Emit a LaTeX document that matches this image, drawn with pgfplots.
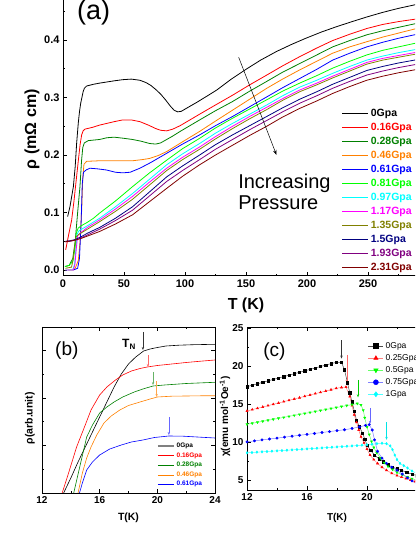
\documentclass[border=0pt]{standalone}
\usepackage{fontspec}
\setmainfont{Liberation Sans}
\usepackage{pgfplots}
\pgfplotsset{compat=1.18}
\usetikzlibrary{arrows.meta}
\definecolor{cdg}{RGB}{0,128,0}
\definecolor{cor}{RGB}{255,128,0}
\definecolor{clime}{RGB}{0,255,0}
\definecolor{ccyan}{RGB}{0,255,255}
\definecolor{cmag}{RGB}{255,0,255}
\definecolor{colive}{RGB}{128,128,0}
\definecolor{cnavy}{RGB}{0,0,128}
\definecolor{cpurp}{RGB}{128,0,128}
\definecolor{cbrown}{RGB}{128,0,0}
\pgfplotsset{
  common/.style={scale only axis, anchor=south west, tick align=inside,
    /pgf/number format/assume math mode=true,
    major tick length=4pt, minor tick length=2.2pt,
    every tick/.style={black, line width=0.6pt}}
}
\tikzset{arr/.style={-{Stealth[length=3pt,width=2.4pt]}, line width=0.5pt}}
\begin{document}
\begin{tikzpicture}
\path[use as bounding box] (0,0) rectangle (415pt,537pt);
\clip (0,0) rectangle (415pt,537pt);
% ---------------- panel (a)
\begin{axis}[common, at={(63pt,261pt)}, width=366pt, height=293.5pt,
  xmin=0, xmax=300, ymin=-0.0104, ymax=0.5,
  axis line style={line width=1pt},
  xtick={0,50,...,250}, minor xtick={25,75,...,275},
  ytick={0,0.1,0.2,0.3,0.4,0.5}, minor y tick num=1,
  yticklabel style={/pgf/number format/.cd, fixed, fixed zerofill, precision=1},
  tick label style={font=\bfseries\fontsize{11}{11}\selectfont},
  xlabel={T (K)}, ylabel={ρ (mΩ cm)},
  label style={font=\bfseries\fontsize{16}{16}\selectfont},
  xlabel style={at={(axis description cs:0.5,0)}, anchor=center, yshift=-29pt},
  ylabel style={at={(axis description cs:0,0.5)}, anchor=center, yshift=31pt},
  legend style={at={(0.762,0.579)}, anchor=north west, draw=none, fill=none,
    inner sep=0pt, row sep=0pt, font=\bfseries\fontsize{10.5}{10.5}\selectfont,
    nodes={inner sep=0pt, minimum height=14pt},
    /tikz/every odd column/.append style={column sep=2pt}},
  legend cell align=left,
  legend image code/.code={\draw[#1] (0pt,0pt) -- (26pt,0pt);},
  every axis plot/.append style={line width=0.8pt}
]
\addplot[black] coordinates {(3.8,0.093)(5.7,0.110)(8.5,0.145)(10,0.18)(11.2,0.221)(12.5,0.255)(13.5,0.275)(14.5,0.29)(15.5,0.300)(16.5,0.310)(17.5,0.316)(19.4,0.320)(25,0.323)(30,0.325)(36,0.327)(42,0.329)(49,0.331)(56,0.332)(63,0.330)(68,0.326)(72,0.321)(76,0.314)(80,0.306)(84,0.296)(88,0.285)(91,0.278)(94,0.275)(97,0.276)(101,0.281)(110,0.292)(120,0.305)(126,0.313)(138,0.332)(150,0.349)(162,0.365)(175,0.380)(187,0.392)(199,0.403)(212,0.414)(224,0.423)(237,0.432)(249,0.440)(262,0.448)(275,0.455)(288,0.461)(300,0.467)};
\addlegendentry{0Gpa}
\addplot[red] coordinates {(2.2,0.035)(4.5,0.06)(7.1,0.087)(9,0.12)(10.5,0.15)(12.6,0.191)(14,0.218)(15.3,0.235)(16.5,0.242)(18,0.245)(24,0.248)(30,0.252)(36,0.255)(42,0.258)(49,0.261)(56,0.261)(63,0.258)(70,0.252)(76,0.246)(80,0.243)(85,0.242)(90,0.245)(96,0.251)(104,0.261)(112,0.271)(125,0.287)(139,0.304)(153,0.322)(167,0.339)(180,0.355)(194,0.371)(208,0.386)(221,0.399)(235,0.410)(249,0.420)(262,0.427)(275,0.432)(288,0.436)(300,0.44)};
\addlegendentry{\textcolor{red}{0.16Gpa}}
\addplot[cdg] coordinates {(1.6,0.006)(5,0.008)(8,0.02)(10,0.05)(12,0.1)(13.9,0.145)(15.2,0.19)(16.2,0.213)(17.5,0.221)(20.7,0.225)(30,0.227)(36,0.230)(42,0.231)(50,0.229)(57,0.227)(64,0.224)(71,0.220)(76,0.219)(80,0.221)(85,0.227)(90,0.233)(96,0.241)(104,0.251)(112,0.261)(125,0.277)(139,0.293)(153,0.311)(167,0.328)(180,0.344)(194,0.359)(208,0.374)(221,0.388)(235,0.399)(249,0.409)(262,0.416)(275,0.422)(288,0.428)(300,0.433)};
\addlegendentry{\textcolor{cdg}{0.28Gpa}}
\addplot[cor] coordinates {(4,0.0)(8,0.0)(10,0.003)(12.6,0.017)(14,0.05)(15.3,0.104)(16.2,0.16)(17.2,0.184)(19.4,0.189)(30,0.190)(45,0.190)(57,0.190)(65,0.192)(71,0.194)(78,0.199)(85,0.206)(98,0.223)(112,0.241)(125,0.259)(139,0.278)(153,0.297)(167,0.316)(180,0.332)(194,0.348)(208,0.363)(221,0.377)(235,0.388)(249,0.397)(262,0.405)(275,0.412)(288,0.419)(300,0.424)};
\addlegendentry{\textcolor{cor}{0.46Gpa}}
\addplot[blue] coordinates {(8.5,0.0)(12,0.003)(13.5,0.02)(14.8,0.08)(15.8,0.15)(16.8,0.170)(19,0.174)(22,0.177)(28,0.176)(35.5,0.174)(43,0.170)(49,0.169)(55,0.170)(63,0.177)(72,0.187)(85,0.203)(98,0.219)(112,0.235)(125,0.251)(139,0.267)(153,0.284)(167,0.301)(180,0.317)(194,0.333)(208,0.349)(221,0.365)(235,0.377)(249,0.388)(262,0.396)(275,0.403)(288,0.409)(300,0.414)};
\addlegendentry{\textcolor{blue}{0.61Gpa}}
\addplot[clime] coordinates {(1.6,0.006)(5,0.008)(8,0.015)(10,0.04)(11,0.065)(12.5,0.073)(15,0.077)(20,0.083)(25,0.09)(30,0.099)(43,0.120)(57,0.145)(71,0.169)(85,0.191)(98,0.211)(112,0.229)(125,0.247)(139,0.264)(153,0.280)(167,0.296)(180,0.311)(194,0.325)(208,0.338)(221,0.351)(235,0.363)(249,0.374)(262,0.382)(275,0.388)(288,0.394)(300,0.399)};
\addlegendentry{\textcolor{clime}{0.81Gpa}}
\addplot[ccyan] coordinates {(2,0.0)(8,0.0)(9.5,0.01)(10.5,0.035)(11.5,0.062)(13,0.068)(20,0.077)(30,0.090)(43,0.110)(57,0.133)(71,0.158)(85,0.183)(98,0.202)(112,0.220)(125,0.238)(139,0.255)(153,0.271)(167,0.287)(180,0.303)(194,0.318)(208,0.330)(221,0.342)(235,0.354)(249,0.365)(262,0.372)(275,0.378)(288,0.383)(300,0.388)};
\addlegendentry{\textcolor{ccyan}{0.97Gpa}}
\addplot[cmag] coordinates {(2,0.0)(8.5,0.0)(9.8,0.01)(10.8,0.035)(12,0.06)(14,0.064)(20,0.074)(30,0.087)(43,0.106)(57,0.128)(71,0.153)(85,0.177)(98,0.196)(112,0.214)(125,0.232)(139,0.250)(153,0.267)(167,0.283)(180,0.298)(194,0.313)(208,0.325)(221,0.337)(235,0.349)(249,0.361)(262,0.368)(275,0.373)(288,0.378)(300,0.383)};
\addlegendentry{\textcolor{cmag}{1.17Gpa}}
\addplot[colive] coordinates {(2,0.003)(7,0.005)(8.5,0.02)(9.5,0.04)(10.5,0.057)(13,0.062)(20,0.071)(30,0.084)(43,0.102)(57,0.123)(71,0.148)(85,0.173)(98,0.192)(112,0.210)(125,0.228)(139,0.246)(153,0.263)(167,0.279)(180,0.295)(194,0.310)(208,0.322)(221,0.334)(235,0.346)(249,0.358)(262,0.365)(275,0.370)(288,0.375)(300,0.380)};
\addlegendentry{\textcolor{colive}{1.35Gpa}}
\addplot[cnavy] coordinates {(2,0.050)(6,0.051)(10,0.053)(15,0.058)(20,0.064)(30,0.074)(43,0.090)(57,0.110)(71,0.136)(85,0.162)(98,0.181)(112,0.200)(125,0.218)(139,0.235)(153,0.251)(167,0.267)(180,0.282)(194,0.297)(208,0.310)(221,0.323)(235,0.335)(249,0.347)(262,0.354)(275,0.360)(288,0.365)(300,0.370)};
\addlegendentry{\textcolor{cnavy}{1.5Gpa}}
\addplot[cpurp] coordinates {(2,0.049)(6,0.050)(10,0.052)(15,0.056)(20,0.061)(30,0.071)(43,0.086)(57,0.104)(71,0.129)(85,0.154)(98,0.173)(112,0.192)(125,0.210)(139,0.227)(153,0.244)(167,0.260)(180,0.275)(194,0.290)(208,0.303)(221,0.316)(235,0.328)(249,0.339)(262,0.346)(275,0.352)(288,0.357)(300,0.362)};
\addlegendentry{\textcolor{cpurp}{1.93Gpa}}
\addplot[cbrown] coordinates {(1.5,0.049)(5,0.050)(10,0.052)(15,0.055)(20,0.059)(30,0.067)(43,0.080)(57,0.096)(71,0.119)(85,0.142)(98,0.163)(112,0.183)(125,0.200)(139,0.217)(153,0.234)(167,0.250)(180,0.266)(194,0.281)(208,0.294)(221,0.307)(235,0.319)(249,0.330)(262,0.337)(275,0.343)(288,0.348)(300,0.353)};
\addlegendentry{\textcolor{cbrown}{2.31Gpa}}
\draw[-{Stealth[length=5pt,width=3.5pt]}, line width=0.5pt] (axis cs:144,0.370) -- (axis cs:175,0.200);
\node[anchor=base west, font=\fontsize{20}{20}\selectfont, inner sep=0pt] at (axis cs:143.5,0.1417) {Increasing};
\node[anchor=base west, font=\fontsize{20}{20}\selectfont, inner sep=0pt] at (axis cs:143.5,0.1052) {Pressure};
\node[anchor=base west, font=\fontsize{27}{27}\selectfont, inner sep=0pt] at (axis cs:11.5,0.4348) {(a)};
\end{axis}
% ---------------- panel (b)
\begin{axis}[common, at={(42pt,44pt)}, width=173pt, height=166pt,
  xmin=12, xmax=24, ymin=0, ymax=166,
  axis line style={line width=0.7pt},
  xtick={12,16,20,24}, minor xtick={14,18,22},
  ytick={47.5,95,142.5}, minor ytick={23.75,71.25,118.75}, yticklabels={},
  tick label style={font=\bfseries\fontsize{10}{10}\selectfont},
  xlabel={T(K)}, ylabel={ρ(arb.unit)},
  label style={font=\bfseries\fontsize{10.5}{10.5}\selectfont},
  xlabel style={at={(axis description cs:0.5,0)}, anchor=center, yshift=-25pt},
  ylabel style={at={(axis description cs:0,0.45)}, anchor=center, yshift=12pt},
  legend style={at={(0.665,0.313)}, anchor=north west, draw=none, fill=none,
    inner sep=0pt, row sep=0pt, font=\bfseries\fontsize{6.5}{6.5}\selectfont,
    nodes={inner sep=0pt, minimum height=9.6pt},
    /tikz/every odd column/.append style={column sep=2pt}},
  legend cell align=left,
  legend image code/.code={\draw[#1] (0pt,0pt) -- (16pt,0pt);},
  every axis plot/.append style={line width=0.6pt}
]
\addlegendimage{gray, line width=1.4pt}
\addlegendentry{0Gpa}
\addplot[black, forget plot] coordinates {(13.5,0)(14.0,15)(14.5,31)(15,46)(15.5,61)(16,76)(16.5,91)(17,106)(17.5,119)(18,129)(18.5,136)(19.05,142)(19.5,144)(20,145.5)(20.6,147)(21.5,147.8)(22.5,148.3)(24,148.7)};
\addplot[red] coordinates {(13.4,0)(13.8,18)(14.4,46)(15,68)(15.4,83)(16,98)(16.5,106)(17.1,113)(17.6,118)(18.2,122)(18.8,124.5)(19.3,126)(20,127.5)(21,129)(22,130.5)(23,131.8)(24,133)};
\addlegendentry{\textcolor{red}{0.16Gpa}}
\addplot[cdg] coordinates {(14.2,0)(14.6,25)(15.1,56)(15.5,68)(16,80)(16.5,86)(17,91)(17.6,96)(18.4,101)(19,104)(19.7,107)(20.5,108)(22,109.5)(24,110.7)};
\addlegendentry{\textcolor{cdg}{0.28Gpa}}
\addplot[cor] coordinates {(14.5,0)(14.8,20)(15.1,35)(15.4,46)(15.8,58)(16.3,70)(16.8,77)(17.4,83)(18,87.5)(18.8,91)(19.5,94)(20,96)(21,96.8)(22,97)(23,97.2)(24,97.2)};
\addlegendentry{\textcolor{cor}{0.46Gpa}}
\addplot[blue] coordinates {(14.6,0)(14.8,10)(15.1,23)(15.5,31)(16,38)(16.7,44)(17.5,48)(18.2,51)(19,53)(19.8,55.5)(20.8,57)(21.8,56.8)(23,55.8)(24,55)};
\addlegendentry{\textcolor{blue}{0.61Gpa}}
\draw[arr, black!80] (axis cs:19.0,161) -- (axis cs:19.0,143);
\draw[arr, red!60] (axis cs:19.35,138) -- (axis cs:19.35,126);
\draw[arr, cdg!60] (axis cs:19.7,121) -- (axis cs:19.7,108);
\draw[arr, cor!70] (axis cs:19.95,112) -- (axis cs:19.95,96);
\draw[arr, blue!60] (axis cs:20.8,76) -- (axis cs:20.8,58);
\node[anchor=base west, font=\bfseries\fontsize{12}{12}\selectfont, inner sep=0pt] at (axis cs:17.55,145) {T\textsubscript{N}};
\node[anchor=base west, font=\fontsize{19}{19}\selectfont, inner sep=0pt] at (axis cs:12.9,137) {(b)};
\end{axis}
% ---------------- panel (c)
\begin{axis}[common, at={(247pt,47pt)}, width=180pt, height=163pt,
  xmin=12, xmax=24, ymin=3.7, ymax=25.15,
  axis line style={line width=0.7pt},
  xtick={12,16,20}, minor xtick={14,18,22},
  ytick={5,10,15,20,25}, minor ytick={7.5,12.5,17.5,22.5},
  tick label style={font=\bfseries\fontsize{10}{10}\selectfont},
  xlabel={T(K)}, ylabel={χ(emu mol\textsuperscript{-1}Oe\textsuperscript{-1})},
  label style={font=\bfseries\fontsize{10}{10}\selectfont},
  xlabel style={at={(axis description cs:0.5,0)}, anchor=center, yshift=-28pt},
  ylabel style={at={(axis description cs:0,0.45)}, anchor=center, yshift=22pt},
  legend style={at={(0.672,0.92)}, anchor=north west, draw=none, fill=none,
    inner sep=0pt, row sep=0pt, font=\fontsize{8.5}{8.5}\selectfont,
    nodes={inner sep=0pt, minimum height=12pt},
    /tikz/every odd column/.append style={column sep=2pt}},
  legend cell align=left,
  legend image code/.code={\draw[#1] (0pt,0pt) -- (15pt,0pt); \draw[#1, mark size=2.5pt] plot coordinates {(7.5pt,0pt)};},
  every axis plot/.append style={line width=0.5pt, mark size=1.2pt}
]
\addplot[black!70, mark=square*, mark options={black, fill=black}] coordinates {(12.0,17.30)(12.35,17.49)(12.7,17.68)(13.05,17.87)(13.4,18.06)(13.75,18.25)(14.1,18.43)(14.45,18.62)(14.8,18.81)(15.15,19.00)(15.5,19.19)(15.85,19.38)(16.2,19.57)(16.55,19.76)(16.9,19.95)(17.25,20.14)(17.6,20.33)(17.95,20.50)(18.3,20.50)(18.5,19.5)(18.7,17.8)(18.85,16.5)(19.0,15.3)(19.15,14.1)(19.3,12.9)(19.5,12.0)(19.7,11.2)(19.85,10.4)(20.0,9.6)(20.25,8.9)(20.5,8.3)(20.8,7.8)(21.1,7.4)(21.4,7.0)(21.7,6.7)(22.0,6.5)(22.3,6.3)(22.65,6.0)(23.0,5.8)(23.3,5.6)(23.6,5.5)};
\addlegendentry{0Gpa}
\addplot[red!50, mark=triangle*, mark options={red, fill=red}] coordinates {(12.0,14.10)(12.35,14.28)(12.7,14.45)(13.05,14.63)(13.4,14.80)(13.75,14.98)(14.1,15.15)(14.45,15.33)(14.8,15.50)(15.15,15.68)(15.5,15.85)(15.85,16.03)(16.2,16.20)(16.55,16.38)(16.9,16.55)(17.25,16.73)(17.6,16.90)(17.95,17.08)(18.3,17.20)(18.6,17.25)(18.85,16.0)(19.0,14.8)(19.15,13.6)(19.3,12.6)(19.45,11.6)(19.6,10.7)(19.8,9.9)(20.0,9.1)(20.2,8.3)(20.45,7.7)(20.7,7.2)(21.0,6.7)(21.3,6.3)(21.65,5.9)(22.0,5.6)(22.3,5.4)(22.6,5.2)(22.9,5.0)(23.2,4.8)(23.5,4.6)};
\addlegendentry{0.25Gpa}
\addplot[clime!60, mark=triangle*, mark options={clime, fill=clime, rotate=180}] coordinates {(12.0,12.35)(12.35,12.48)(12.7,12.61)(13.05,12.74)(13.4,12.87)(13.75,13.00)(14.1,13.13)(14.45,13.26)(14.8,13.39)(15.15,13.52)(15.5,13.65)(15.85,13.77)(16.2,13.90)(16.55,14.03)(16.9,14.16)(17.25,14.29)(17.6,14.42)(17.95,14.55)(18.3,14.68)(18.65,14.81)(19.0,14.94)(19.35,15.07)(19.6,14.9)(19.75,14.2)(19.85,13.2)(20.0,12.0)(20.15,11.0)(20.3,10.1)(20.45,9.3)(20.65,8.6)(20.9,7.9)(21.15,7.3)(21.4,6.8)(21.7,6.4)(22.0,6.0)(22.35,5.7)(22.7,5.4)(23.0,5.2)(23.3,5.0)(23.6,4.9)};
\addlegendentry{0.5Gpa}
\addplot[blue!50, mark=*, mark options={blue, fill=blue}] coordinates {(12.0,10.04)(12.5,10.16)(13.0,10.29)(13.5,10.41)(14.0,10.53)(14.5,10.65)(15.0,10.78)(15.5,10.90)(16.0,11.02)(16.5,11.14)(17.0,11.27)(17.5,11.39)(18.0,11.51)(18.5,11.63)(19.0,11.80)(19.5,12.0)(19.9,12.2)(20.15,12.3)(20.35,11.6)(20.5,10.3)(20.7,8.8)(21.0,7.9)(21.3,7.2)(21.65,6.7)(22.0,6.3)(22.35,5.8)(22.7,5.3)(23.0,4.9)(23.3,4.6)(23.6,4.4)};
\addlegendentry{0.75Gpa}
\addplot[ccyan!70, mark=diamond*, mark options={ccyan, fill=ccyan}] coordinates {(12.0,8.59)(12.33,8.63)(12.66,8.68)(13.0,8.72)(13.33,8.76)(13.66,8.81)(14.0,8.85)(14.33,8.89)(14.66,8.94)(15.0,8.98)(15.33,9.02)(15.66,9.07)(16.0,9.11)(16.33,9.15)(16.66,9.20)(17.0,9.24)(17.33,9.28)(17.66,9.33)(18.0,9.37)(18.33,9.41)(18.66,9.46)(19.0,9.50)(19.33,9.54)(19.66,9.60)(20.0,9.65)(20.33,9.72)(20.66,9.80)(21.0,9.85)(21.3,9.80)(21.55,9.5)(21.7,9.0)(21.85,8.3)(22.0,7.7)(22.2,7.2)(22.45,6.9)(22.7,6.6)(23.0,6.2)(23.3,5.9)(23.6,5.7)};
\addlegendentry{1Gpa}
\draw[arr, black!80] (axis cs:18.3,23.4) -- (axis cs:18.3,21.0);
\draw[arr, red!60] (axis cs:18.65,21.4) -- (axis cs:18.65,17.8);
\draw[arr, clime!80!black] (axis cs:19.4,18.2) -- (axis cs:19.4,15.9);
\draw[arr, blue!60] (axis cs:20.2,14.5) -- (axis cs:20.2,12.4);
\draw[arr, ccyan!90!black] (axis cs:21.3,12.6) -- (axis cs:21.3,10.3);
\node[anchor=base west, font=\fontsize{19}{19}\selectfont, inner sep=0pt] at (axis cs:13.07,21.3) {(c)};
\end{axis}
\end{tikzpicture}
\end{document}
